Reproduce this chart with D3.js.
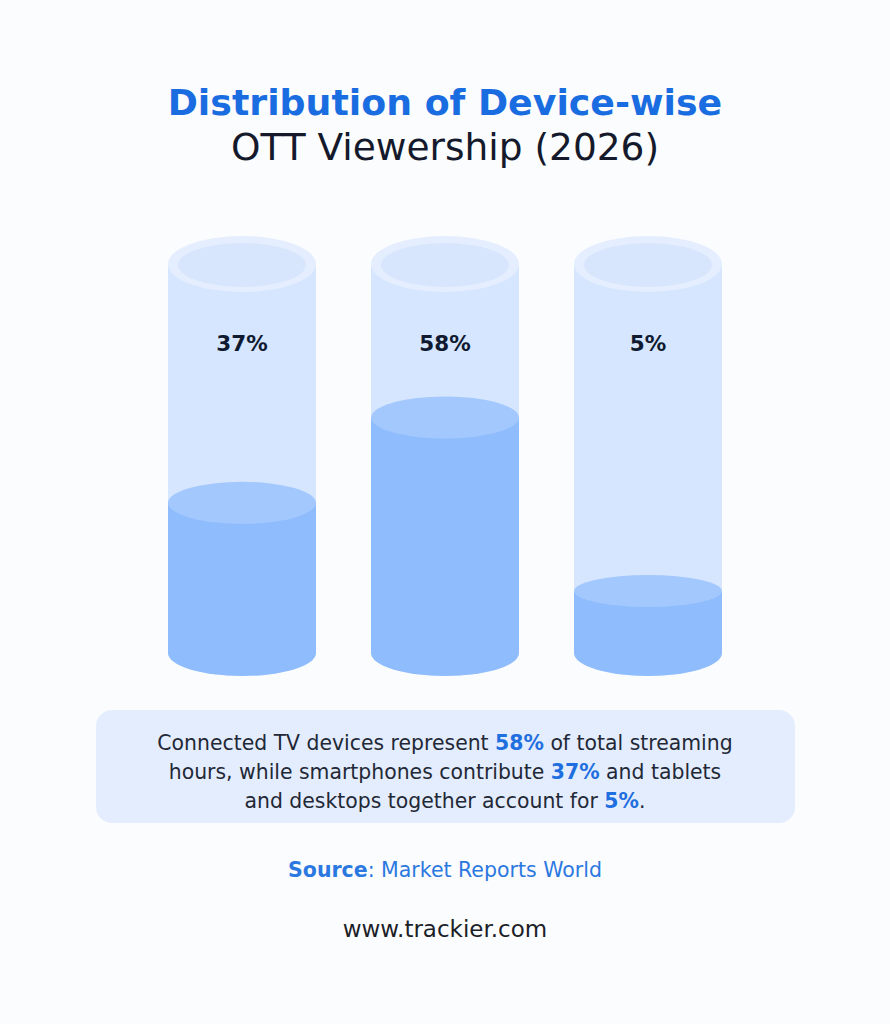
<!DOCTYPE html>
<html>
<head>
<meta charset="utf-8">
<script src="https://cdn.jsdelivr.net/npm/d3@7"></script>
<style>
  body { margin: 0; background: #fbfcfe; }
  svg { display: block; font-family: "DejaVu Sans", sans-serif; }
</style>
</head>
<body>
<div id="chart"></div>
<script>
// data
var devices = ["Smartphones", "Connected TV", "Tablets & Desktops"];
var shares = [37, 58, 5];
var titleLines = ["Distribution of Device-wise", "OTT Viewership (2026)"];
var noteLines = [
    [["Connected TV devices represent ", false], ["58%", true], [" of total streaming", false]],
    [["hours, while smartphones contribute ", false], ["37%", true], [" and tablets", false]],
    [["and desktops together account for ", false], ["5%", true], [".", false]]
];
var sourceName = "Market Reports World";
var siteUrl = "www.trackier.com";

var width = 890,
    height = 1024;

var svg = d3.select("#chart")
    .append("svg")
    .attr("width", width)
    .attr("height", height);

svg.append("rect")
    .attr("width", width)
    .attr("height", height)
    .attr("fill", "#fbfcfe");

// title
svg.append("text")
    .attr("x", 445)
    .attr("y", 115)
    .attr("text-anchor", "middle")
    .style("font-size", "36.3px")
    .style("font-weight", "700")
    .style("fill", "#1a6de0")
    .text(titleLines[0]);

svg.append("text")
    .attr("x", 445)
    .attr("y", 160)
    .attr("text-anchor", "middle")
    .style("font-size", "37.5px")
    .style("fill", "#141a2b")
    .text(titleLines[1]);

// scales
var x = d3.scaleBand()
    .domain(devices)
    .range([168, 722])
    .paddingInner(0.271)
    .paddingOuter(0);

var bottomY = 653,
    topY = 264,
    minFillTop = 591; // keep small shares visible

var y = d3.scaleLinear()
    .domain([0, 100])
    .range([bottomY, bottomY - 406]);

var rx = x.bandwidth() / 2;

function bodyPath(cx, yTop) {
    // rectangle with a rounded (elliptical) bottom
    var ry = 23;
    return "M" + (cx - rx) + "," + yTop +
        "L" + (cx - rx) + "," + bottomY +
        "A" + rx + "," + ry + " 0 0 0 " + (cx + rx) + "," + bottomY +
        "L" + (cx + rx) + "," + yTop + "Z";
}

var data = devices.map(function(d, i) {
    return { name: d, value: shares[i] };
});

var cyl = svg.append("g")
    .selectAll("g")
    .data(data)
    .enter()
    .append("g");

// glass
cyl.append("path")
    .attr("d", function(d) {
        return bodyPath(x(d.name) + rx, topY);
    })
    .attr("fill", "#d6e6fe");

// liquid
cyl.append("path")
    .attr("d", function(d) {
        return bodyPath(x(d.name) + rx, Math.min(y(d.value), minFillTop));
    })
    .attr("fill", "#8fbcfd");

cyl.append("ellipse")
    .attr("cx", function(d) { return x(d.name) + rx; })
    .attr("cy", function(d) { return Math.min(y(d.value), minFillTop); })
    .attr("rx", rx)
    .attr("ry", function(d) { return y(d.value) > minFillTop ? 16 : 21; })
    .attr("fill", "#a3c8fe");

// rim
cyl.append("ellipse")
    .attr("cx", function(d) { return x(d.name) + rx; })
    .attr("cy", topY)
    .attr("rx", rx)
    .attr("ry", 28)
    .attr("fill", "#e5eefe");

cyl.append("ellipse")
    .attr("cx", function(d) { return x(d.name) + rx; })
    .attr("cy", topY + 1)
    .attr("rx", rx - 10)
    .attr("ry", 22)
    .attr("fill", "#d8e6fd");

// labels
cyl.append("text")
    .attr("x", function(d) { return x(d.name) + rx; })
    .attr("y", 351)
    .attr("text-anchor", "middle")
    .style("font-size", "21.5px")
    .style("font-weight", "700")
    .style("fill", "#0f1a30")
    .text(function(d) { return d.value + "%"; });

// note box
svg.append("rect")
    .attr("x", 96)
    .attr("y", 710)
    .attr("width", 699)
    .attr("height", 113)
    .attr("rx", 16)
    .attr("fill", "#e4edfd");

var note = svg.append("g")
    .selectAll("text")
    .data(noteLines)
    .enter()
    .append("text")
    .attr("x", 445)
    .attr("y", function(d, i) { return 750 + i * 29; })
    .attr("text-anchor", "middle")
    .style("font-size", "20.4px")
    .style("fill", "#222836");

note.selectAll("tspan")
    .data(function(d) { return d; })
    .enter()
    .append("tspan")
    .style("font-weight", function(d) { return d[1] ? "700" : "400"; })
    .style("fill", function(d) { return d[1] ? "#1f6fe0" : "#222836"; })
    .text(function(d) { return d[0]; });

// source
var src = svg.append("text")
    .attr("x", 445)
    .attr("y", 877)
    .attr("text-anchor", "middle")
    .style("font-size", "20.5px")
    .style("fill", "#2b78e0");
src.append("tspan").style("font-weight", "700").text("Source");
src.append("tspan").text(": " + sourceName);

svg.append("text")
    .attr("x", 445)
    .attr("y", 937)
    .attr("text-anchor", "middle")
    .style("font-size", "23px")
    .style("fill", "#1c1f27")
    .text(siteUrl);
</script>
</body>
</html>
